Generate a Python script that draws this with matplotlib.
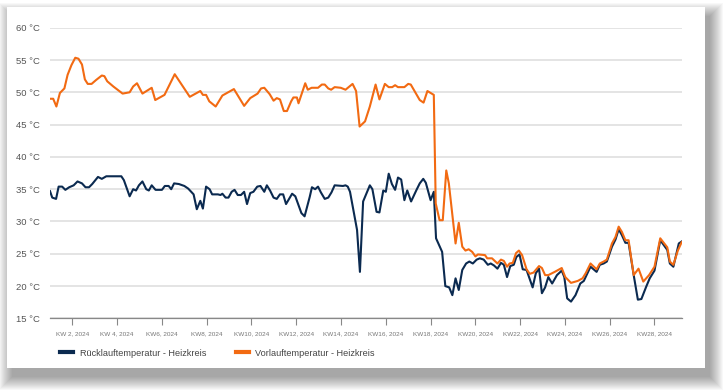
import numpy as np
import pandas as pd
import matplotlib
matplotlib.use("Agg")
import matplotlib.pyplot as plt
from matplotlib.patches import FancyBboxPatch
from matplotlib.lines import Line2D

# Days since 1 Jan 2024 and temperatures
vorlauf_days = [0, 1, 2, 3.1, 4.5, 5.5, 6.7, 7.9, 8.9, 10, 10.9, 11.8, 13, 14.4, 16.2, 17, 17.9,
                19.8, 22.7, 24.9, 26, 27.2, 28.9, 31.8, 32.9, 35.8, 39, 43.7, 47, 47.8, 48.8,
                49.8, 51.8, 53.9, 57.5, 60.7, 62.6, 64.9, 66, 67, 68.7, 69.9, 70.9, 71.9, 73.1,
                74.1, 75.4, 76.1, 77.2, 77.7, 79.8, 80.6, 81.8, 83.8, 85, 85.9, 87, 87.9, 89,
                90.9, 92.4, 94.6, 95.7, 96.8, 98.5, 100, 101.8, 103, 104.7, 105.9, 107, 107.9,
                108.8, 110.8, 112, 112.8, 115.6, 116.8, 118, 120, 120.6, 121.8, 122.8, 123.9,
                124.7, 126.8, 127.8, 128.9, 129.9, 130.9, 132, 133, 133.8, 136, 136.7, 138.2,
                139.9, 141, 141.9, 142.9, 143.7, 144.7, 145.7, 146.6, 147.6, 149, 150, 151.2,
                152.9, 153.8, 154.8, 155.8, 157.8, 160, 161.1, 162.9, 165, 166.5, 167.5, 169,
                170.9, 171.9, 173.1, 174.1, 175.7, 176.8, 177.8, 178.8, 179.9, 180.9, 182.5,
                184, 185.5, 187.3, 189, 190.8, 193, 193.8, 194.9, 196.3, 197.5]
vorlauf = [49.0, 49.0, 47.8, 49.9, 50.6, 52.7, 54.2, 55.35, 55.2, 54.3, 52.0, 51.3, 51.3, 51.9,
           52.6, 52.5, 51.7, 50.9, 49.8, 50.0, 50.9, 51.4, 49.8, 50.7, 48.8, 49.6, 52.8, 49.3,
           50.2, 49.6, 49.6, 48.6, 47.8, 49.5, 50.5, 47.9, 49.1, 49.8, 50.6, 50.7, 49.7, 48.7,
           49.1, 48.9, 47.1, 47.1, 48.6, 49.2, 49.2, 48.3, 51.4, 50.4, 50.7, 50.7, 51.2, 51.2,
           50.6, 50.4, 50.8, 50.7, 50.4, 51.3, 50.2, 44.7, 45.5, 47.8, 51.2, 48.9, 51.3, 50.8,
           50.8, 51.1, 50.8, 50.8, 51.3, 51.2, 48.8, 48.4, 50.2, 49.6, 32.8, 30.2, 30.2, 37.9,
           35.9, 26.6, 29.8, 26.1, 25.5, 25.7, 25.3, 24.6, 24.9, 24.8, 24.3, 24.3, 23.5, 24.1,
           23.9, 23.0, 23.5, 23.6, 25.1, 25.5, 24.8, 22.6, 21.9, 22.1, 23.1, 22.8, 21.7, 21.7,
           22.2, 22.8, 21.4, 20.5, 20.8, 21.2, 22.0, 23.5, 22.6, 23.5, 23.8, 24.1, 26.6, 27.6,
           29.2, 28.4, 27.1, 27.1, 21.7, 22.7, 20.7, 21.7, 23.0, 27.4, 26.0, 23.8, 23.3, 25.5,
           26.8]

ruecklauf_days = [0, 0.7, 1.9, 2.7, 3.8, 4.8, 6, 7.4, 8.6, 10, 11.1, 12.2, 13.2, 15, 16.2, 17.6,
                  22.3, 23.1, 24.9, 26, 26.9, 27.8, 28.9, 30.1, 30.9, 31.8, 33, 35, 35.9, 37.1,
                  37.9, 38.8, 40.3, 42, 43.2, 44.9, 45.9, 47, 47.8, 48.8, 49.9, 50.7, 52.5, 53.3,
                  53.9, 54.9, 55.8, 56.8, 57.7, 58.7, 59.7, 60.7, 61.6, 62.6, 63.6, 64.8, 65.8,
                  67, 67.8, 68.8, 69.9, 70.9, 71.9, 72.9, 73.8, 75.7, 76.7, 78.6, 79.6, 81.2,
                  81.9, 82.9, 83.8, 84.7, 85.9, 87, 88, 89, 91.6, 92.4, 93.1, 93.8, 96, 96.9,
                  97.9, 100, 100.8, 102.1, 103, 104.2, 105, 105.9, 106.9, 107.9, 108.8, 109.8,
                  110.8, 111.7, 112.9, 114.6, 115.6, 116.7, 117.5, 118.1, 119, 120, 120.7, 122.6,
                  123.6, 124.8, 125.8, 126.8, 127.8, 128.9, 130.1, 131.1, 132.2, 133.4, 134.4,
                  135.6, 136.9, 137.8, 138.8, 139.9, 141, 141.9, 142.9, 143.9, 145, 145.8, 146.8,
                  147.8, 149, 150.9, 151.9, 152.9, 153.8, 154.8, 155.8, 157, 158.5, 160, 160.8,
                  161.7, 162.9, 164.3, 165.8, 166.9, 169, 170.9, 171.9, 173.1, 174.1, 175.7,
                  176.8, 177.8, 178.8, 179.9, 180.9, 182.6, 183.8, 184.9, 186.4, 187.5, 189,
                  190.8, 193, 193.8, 194.9, 196.6, 197.5]
ruecklauf = [34.7, 33.7, 33.5, 35.4, 35.4, 34.9, 35.3, 35.6, 36.2, 35.9, 35.3, 35.3, 35.8, 36.9,
             36.6, 37.0, 37.0, 36.4, 33.9, 35.0, 34.8, 35.6, 36.2, 35.0, 34.8, 35.6, 34.9, 34.9,
             35.5, 35.5, 35.0, 35.9, 35.8, 35.5, 35.1, 34.2, 31.9, 33.2, 32.0, 35.4, 35.0, 34.2,
             34.2, 34.1, 34.3, 33.7, 33.7, 34.6, 34.9, 34.1, 34.1, 34.6, 32.7, 34.4, 34.6, 35.4,
             35.5, 34.6, 35.6, 34.8, 33.7, 33.5, 34.2, 34.2, 32.7, 34.3, 33.9, 31.3, 30.8, 33.8,
             35.3, 35.0, 35.4, 34.5, 33.5, 33.7, 34.5, 35.6, 35.5, 35.6, 35.4, 34.6, 28.7, 22.2,
             33.1, 35.6, 35.0, 31.5, 31.4, 34.8, 34.6, 37.4, 35.8, 34.9, 36.8, 36.5, 33.3, 34.8,
             33.1, 34.9, 35.9, 36.6, 36.0, 34.9, 33.3, 34.6, 27.4, 25.3, 20.0, 19.8, 18.6, 21.2,
             19.4, 22.5, 23.5, 23.8, 23.5, 24.1, 24.3, 24.1, 23.3, 23.5, 23.2, 22.7, 23.6, 23.3,
             21.4, 23.1, 23.3, 24.5, 24.9, 22.6, 22.5, 19.8, 22.0, 22.7, 18.9, 19.8, 21.4, 20.4,
             21.7, 22.4, 21.4, 18.1, 17.6, 18.6, 20.4, 20.8, 23.0, 22.2, 23.3, 23.5, 23.8, 26.1,
             27.2, 28.8, 27.9, 26.7, 26.7, 21.4, 17.9, 18.0, 19.9, 21.2, 22.4, 27.1, 25.6, 23.5,
             23.0, 26.6, 26.9]

week_numbers = [2, 4, 6, 8, 10, 12, 14, 16, 18, 20, 22, 24, 26, 28]
week_labels = ["KW 2, 2024", "KW 4, 2024", "KW6, 2024", "KW8, 2024", "KW10, 2024",
               "KW12, 2024", "KW14, 2024", "KW16, 2024", "KW18, 2024", "KW20, 2024",
               "KW22, 2024", "KW24, 2024", "KW26, 2024", "KW28, 2024"]
y_ticks = [15, 20, 25, 30, 35, 40, 45, 50, 55, 60]

BLUE = "#0b2a50"
ORANGE = "#f26a12"
start = pd.Timestamp("2024-01-01")

def to_dates(days):
    return start + pd.to_timedelta(np.array(days), unit="D")

plt.rcParams["font.family"] = ["Liberation Sans", "DejaVu Sans"]

W, H = 728, 391
fig = plt.figure(figsize=(W / 100, H / 100), dpi=100)
fig.patch.set_facecolor("white")

# card with a soft shadow towards the lower right
cx0, cy0, cx1, cy1 = 7, 7, 705, 368
for i in range(14):
    pad = i * 1.0
    fig.patches.append(FancyBboxPatch(
        ((cx0 + 5 - pad) / W, 1 - (cy1 + 9 + pad) / H),
        (cx1 - cx0 + 2 * pad) / W, (cy1 - cy0 + 2 * pad) / H,
        boxstyle="square,pad=0", transform=fig.transFigure,
        facecolor="black", edgecolor="none", alpha=0.028, zorder=0))
fig.patches.append(FancyBboxPatch(
    (cx0 / W, 1 - cy1 / H), (cx1 - cx0) / W, (cy1 - cy0) / H,
    boxstyle="square,pad=0", transform=fig.transFigure,
    facecolor="white", edgecolor="none", zorder=1))

ax = fig.add_axes([50 / W, 1 - 318.4 / H, 632 / W, (318.4 - 27.7) / H])
ax.set_zorder(2)
ax.patch.set_alpha(0)

ax.plot(to_dates(ruecklauf_days), ruecklauf, color=BLUE, lw=1.5,
        label="Rücklauftemperatur - Heizkreis", zorder=3)
ax.plot(to_dates(vorlauf_days), vorlauf, color=ORANGE, lw=1.5,
        label="Vorlauftemperatur - Heizkreis", zorder=4)

ax.set_ylim(15, 60)
ax.set_xlim(start, start + pd.Timedelta(days=197.6))
ax.set_yticks(y_ticks)
ax.set_yticklabels([f"{v} °C" for v in y_ticks], fontsize=6.8, color="#555555")
ax.yaxis.grid(True, color="#e2e2e2", lw=1.3)
ax.tick_params(axis="y", length=0, pad=7)

tick_dates = [start + pd.Timedelta(days=(w - 1) * 7) for w in week_numbers]
ax.set_xticks(tick_dates)
ax.set_xticklabels(week_labels, fontsize=4.6, color="#777777")
ax.tick_params(axis="x", length=5, width=0.8, color="#888888", pad=4)

for s in ["top", "right", "left"]:
    ax.spines[s].set_visible(False)
ax.spines["bottom"].set_color("#888888")
ax.spines["bottom"].set_linewidth(0.9)
ax.spines["bottom"].set_zorder(5)

handles = [Line2D([], [], color=BLUE, lw=3),
           Line2D([], [], color=ORANGE, lw=3)]
fig.legend(handles, ["Rücklauftemperatur - Heizkreis", "Vorlauftemperatur - Heizkreis"],
           loc="center left", bbox_to_anchor=(52 / W, 1 - 353 / H), ncol=2, frameon=False,
           fontsize=6.6, handlelength=1.4, columnspacing=3.3, handletextpad=0.7,
           labelcolor="#444444")

fig.savefig("out.png", dpi=100, facecolor="white")
